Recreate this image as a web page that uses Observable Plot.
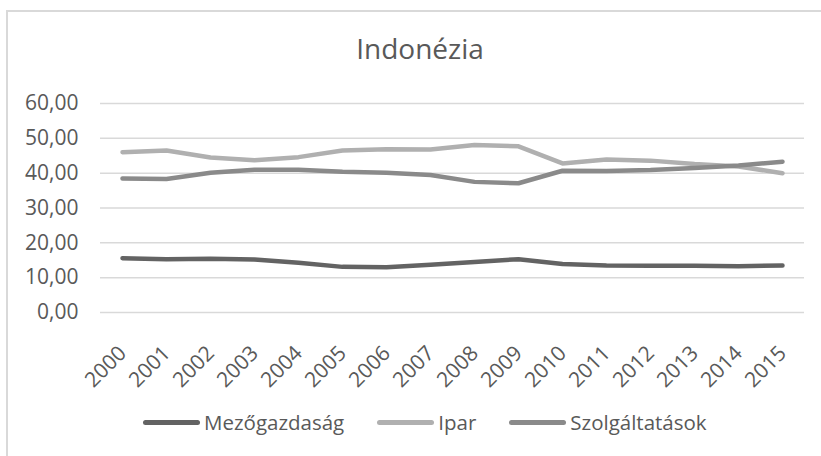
<!DOCTYPE html>
<html>
<head>
<meta charset="utf-8">
<script src="https://cdn.jsdelivr.net/npm/d3@7"></script>
<script src="https://cdn.jsdelivr.net/npm/@observablehq/plot@0.6"></script>
<style>
  html, body { margin: 0; padding: 0; background: #fff; }
  #wrap { position: relative; width: 821px; height: 456px; overflow: hidden; font-family: "Open Sans", sans-serif; color: #595959; }
  #frame { position: absolute; left: 6px; top: 10px; width: 900px; height: 600px; border: 2px solid #d9d9d9; box-sizing: border-box; }
  #title { position: absolute; left: 0; width: 840px; top: 26px; text-align: center; font-size: 28px; line-height: 44px; color: #595959; }
  #chart { position: absolute; left: 0; top: 0; }
  #legend { position: absolute; left: 143px; top: 408px; display: flex; align-items: center; font-size: 20.5px; line-height: 28px; color: #595959; white-space: nowrap; }
  .sw { display: inline-block; width: 57px; height: 5px; border-radius: 3px; margin-right: 4px; }
  .item { display: flex; align-items: center; margin-right: 33px; }
</style>
</head>
<body>
<div id="wrap">
  <div id="frame"></div>
  <div id="title">Indonézia</div>
  <div id="chart"></div>
  <div id="legend"></div>
</div>
<script>
const years = [2000, 2001, 2002, 2003, 2004, 2005, 2006, 2007, 2008, 2009, 2010, 2011, 2012, 2013, 2014, 2015];
const mezogazdasag = [15.6, 15.3, 15.4, 15.2, 14.3, 13.1, 13.0, 13.7, 14.5, 15.3, 13.9, 13.5, 13.4, 13.4, 13.3, 13.5];
const ipar = [46.0, 46.5, 44.5, 43.7, 44.6, 46.5, 46.9, 46.8, 48.1, 47.7, 42.8, 43.9, 43.6, 42.6, 41.9, 40.0];
const szolgaltatasok = [38.5, 38.3, 40.1, 41.0, 41.0, 40.4, 40.1, 39.5, 37.5, 37.1, 40.7, 40.6, 40.9, 41.5, 42.2, 43.3];
const seriesNames = ["Mezőgazdaság", "Ipar", "Szolgáltatások"];
const seriesColors = ["#636363", "#b0b0b0", "#8a8a8a"];
const yTicks = [0, 10, 20, 30, 40, 50, 60];

const seriesValues = [mezogazdasag, ipar, szolgaltatasok];
const data = [];
seriesNames.forEach((name, i) => {
  years.forEach((yr, j) => data.push({series: name, year: yr, value: seriesValues[i][j]}));
});
const fmt = d => d3.format(".2f")(d).replace(".", ",");

const chart = Plot.plot({
  width: 821,
  height: 400,
  marginTop: 103,
  marginBottom: 88,
  marginLeft: 100,
  marginRight: 17,
  style: {fontFamily: "Open Sans", fontSize: "21px", color: "#595959", background: "transparent", overflow: "visible"},
  x: {type: "point", domain: years, padding: 0.5, axis: null},
  y: {domain: [0, 60], axis: null},
  color: {domain: seriesNames, range: seriesColors},
  marks: [
    Plot.gridY(yTicks, {stroke: "#d9d9d9", strokeOpacity: 1, strokeWidth: 1.5}),
    Plot.axisY(yTicks, {tickFormat: fmt, tickSize: 0, tickPadding: 22, fill: "#595959", fontSize: 21, label: null}),
    Plot.line(data, {x: "year", y: "value", z: "series", stroke: "series", strokeWidth: 4.5, strokeLinecap: "round", strokeLinejoin: "round"}),
    Plot.text(years, {x: d => d, frameAnchor: "bottom", text: d => String(d), rotate: -45, textAnchor: "end", dy: 42, dx: 5, fontSize: 21, fill: "#595959"})
  ]
});
document.getElementById("chart").appendChild(chart);

const legend = document.getElementById("legend");
seriesNames.forEach((name, i) => {
  const item = document.createElement("div");
  item.className = "item";
  const sw = document.createElement("span");
  sw.className = "sw";
  sw.style.background = seriesColors[i];
  const t = document.createElement("span");
  t.textContent = name;
  item.appendChild(sw);
  item.appendChild(t);
  legend.appendChild(item);
});
</script>
</body>
</html>
